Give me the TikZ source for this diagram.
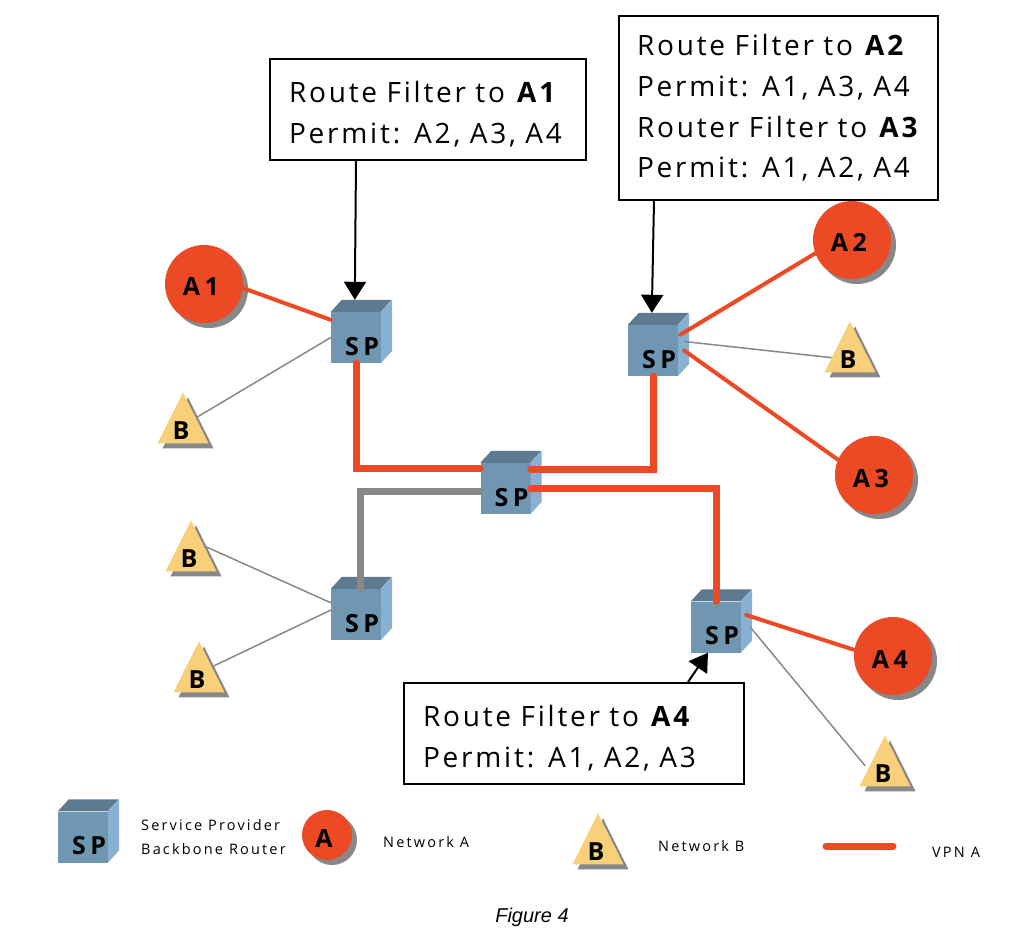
\documentclass[tikz,border=0pt]{standalone}
\usepackage{fontspec}
\setmainfont{Open Sans}[LetterSpace=10]
\newfontfamily\tagfont{Open Sans}[LetterSpace=18]
\newfontfamily\legendfont{Open Sans}[LetterSpace=15]
\newfontfamily\captionfont{Liberation Sans}
\usetikzlibrary{arrows.meta,positioning,calc,shapes.geometric,shadows}
\definecolor{vpnRed}{RGB}{236, 74, 36}
\definecolor{netGray}{RGB}{136, 136, 136}
\definecolor{cubeFront}{RGB}{112, 151, 178}
\definecolor{cubeTop}{RGB}{94, 122, 144}
\definecolor{cubeSide}{RGB}{135, 176, 210}
\definecolor{triFill}{RGB}{248, 208, 122}
\tikzset{
    x=1pt, y=-1pt,
    spfront/.style={fill=cubeFront, minimum width=50pt, minimum height=51pt, inner sep=0pt},
    sptext/.style={font=\fontsize{25pt}{25pt}\selectfont\tagfont\bfseries, inner sep=0pt},
    netA/.style={circle, fill=vpnRed, minimum size=78pt, inner sep=0pt, text height=24pt, text depth=0pt,
        copy shadow={shadow xshift=5pt, shadow yshift=-5pt, fill=netGray, draw=none},
        execute at end node=\hspace*{6pt},
        font=\fontsize{25pt}{25pt}\selectfont\tagfont\bfseries},
    netAkey/.style={netA, minimum size=50pt},
    netB/.style={isosceles triangle, isosceles triangle apex angle=53, shape border rotate=90,
        isosceles triangle stretches, minimum width=51pt, minimum height=51pt, inner sep=0pt,
        fill=triFill, anchor=apex,
        copy shadow={shadow xshift=5pt, shadow yshift=-5pt, fill=netGray, draw=none},
        execute at end node=\hspace*{4pt},
        font=\fontsize{25pt}{25pt}\selectfont\tagfont\bfseries},
    filterbox/.style={draw=black, line width=2pt, fill=white, align=left, inner sep=0pt,
        font=\fontsize{28pt}{40.7pt}\selectfont},
    filterarrow/.style={draw=black, line width=2pt, -{Triangle[length=18pt,width=22pt]}},
    vpnthin/.style={draw=vpnRed, line width=4pt, line cap=round},
    vpnthick/.style={draw=vpnRed, line width=7pt, line cap=round},
    corethick/.style={draw=netGray, line width=7pt, line cap=round},
    netlink/.style={draw=netGray, line width=1.5pt},
    legendtext/.style={font=\fontsize{14.5pt}{24pt}\selectfont\legendfont, align=left, inner sep=0pt, anchor=west}
}
\newcommand{\spcube}[2]{
    \node[spfront] (#1) at (#2) {};
    \fill[cubeTop] (#1.north west) -- ++(11,-12) -- ++(50,0) -- ++(-11,12) -- cycle;
    \fill[cubeSide] (#1.north east) -- ++(11,-12) -- ++(0,51) -- ++(-11,12) -- cycle;
    \coordinate (#1top) at ($(#1.north west)+(24,-12)$);
    \node[sptext] (#1sp) at ($(#1.center)+(6,9)$) {SP};
}
\newcommand{\notelift}{\rule{0pt}{31pt}}
\begin{document}
\begin{tikzpicture}
    \useasboundingbox (0,0) rectangle (1034,952);

    % routers
    \spcube{spNW}{356,337.5}
    \spcube{spNE}{653,350.5}
    \spcube{spCore}{505.5,488.5}
    \spcube{spSW}{356,614.5}
    \spcube{spSE}{716,627}

    % sites of network A
    \node[netA] (aOne) at (204,284) {A1};
    \node[netA] (aTwo) at (852,240) {A2};
    \node[netA] (aThree) at (874,475) {A3};
    \node[netA] (aFour) at (893,656) {A4};

    % sites of network B
    \node[netB] (bNW) at (183,392) {B};
    \node[netB] (bNE) at (850,321) {B};
    \node[netB] (bWestA) at (191,520) {B};
    \node[netB] (bWestB) at (199,641) {B};
    \node[netB] (bSE) at (885,735) {B};

    % backbone
    \draw[vpnthick] (spNW.south) |- ([yshift=20.5pt]spCore.west);
    \draw[vpnthick] ([yshift=19.5pt]spCore.east) -| (spNE.south);
    \draw[vpnthick] (spCore.east) -| (spSE.north);
    \draw[corethick] ([yshift=-2.5pt]spCore.west) -| ([xshift=4pt]spSW.north);

    % access links
    \draw[vpnthin] (aOne.-6) -- (spNW.145);
    \draw[vpnthin] (aTwo.200) -- ([xshift=2pt]spNE.32);
    \draw[vpnthin] (aThree.157) -- ([xshift=6pt]spNE.east);
    \draw[vpnthin] (aFour.171) -- ([shift={(5pt,12pt)}]spSE.east);
    \draw[netlink] (spNW.west) -- (bNW.right side);
    \draw[netlink] ([shift={(6pt,9pt)}]spNE.east) -- (bNE);
    \draw[netlink] (spSW.155) -- (bWestA.right side);
    \draw[netlink] (spSW.170) -- (bWestB.right side);
    \draw[netlink] ([xshift=9pt]spSE.east) -- ([shift={(-7pt,-5pt)}]bSE.left side);

    % filter notes
    \node[filterbox, text width=278pt, minimum width=316pt, minimum height=101pt] (noteOne) at (428,109.5)
        {\notelift Route Filter to \textbf{A1}\\Permit: A2, A3, A4};
    \node[filterbox, text width=283pt, minimum width=319pt, minimum height=184pt] (noteTwo) at (778.5,108)
        {Route Filter to \textbf{A2}\\Permit: A1, A3, A4\\\mbox{Router Filter to \textbf{A3}}\\Permit: A1, A2, A4};
    \node[filterbox, text width=302pt, minimum width=340pt, minimum height=101pt] (noteThree) at (574,733.5)
        {\notelift Route Filter to \textbf{A4}\\Permit: A1, A2, A3};
    \draw[filterarrow] ([xshift=-72pt]noteOne.south) -- (spNWtop);
    \draw[filterarrow] ([xshift=-124.5pt]noteTwo.south) -- (spNEtop);
    \draw[filterarrow] ([xshift=114pt]noteThree.north) -- ([xshift=-8pt]spSE.south);

    % legend
    \spcube{spKey}{83,837}
    \node[legendtext] (keyRouter) at (141,837) {Service Provider\\Backbone Router};
    \node[netAkey] (aKey) at (327,835) {A};
    \node[legendtext] (keyA) at (383,842) {Network A};
    \node[netB] (bKey) at (598,813) {B};
    \node[legendtext] (keyB) at (658,846) {Network B};
    \coordinate (vpnLeft) at (826,846);
    \coordinate (vpnRight) at (893,846);
    \draw[vpnthick] (vpnLeft) -- (vpnRight);
    \node[legendtext] (keyVpn) at (932,852) {VPN A};
    \node[font=\fontsize{20pt}{20pt}\selectfont\captionfont\itshape] (figLabel) at (532,917) {Figure 4};
\end{tikzpicture}
\end{document}
